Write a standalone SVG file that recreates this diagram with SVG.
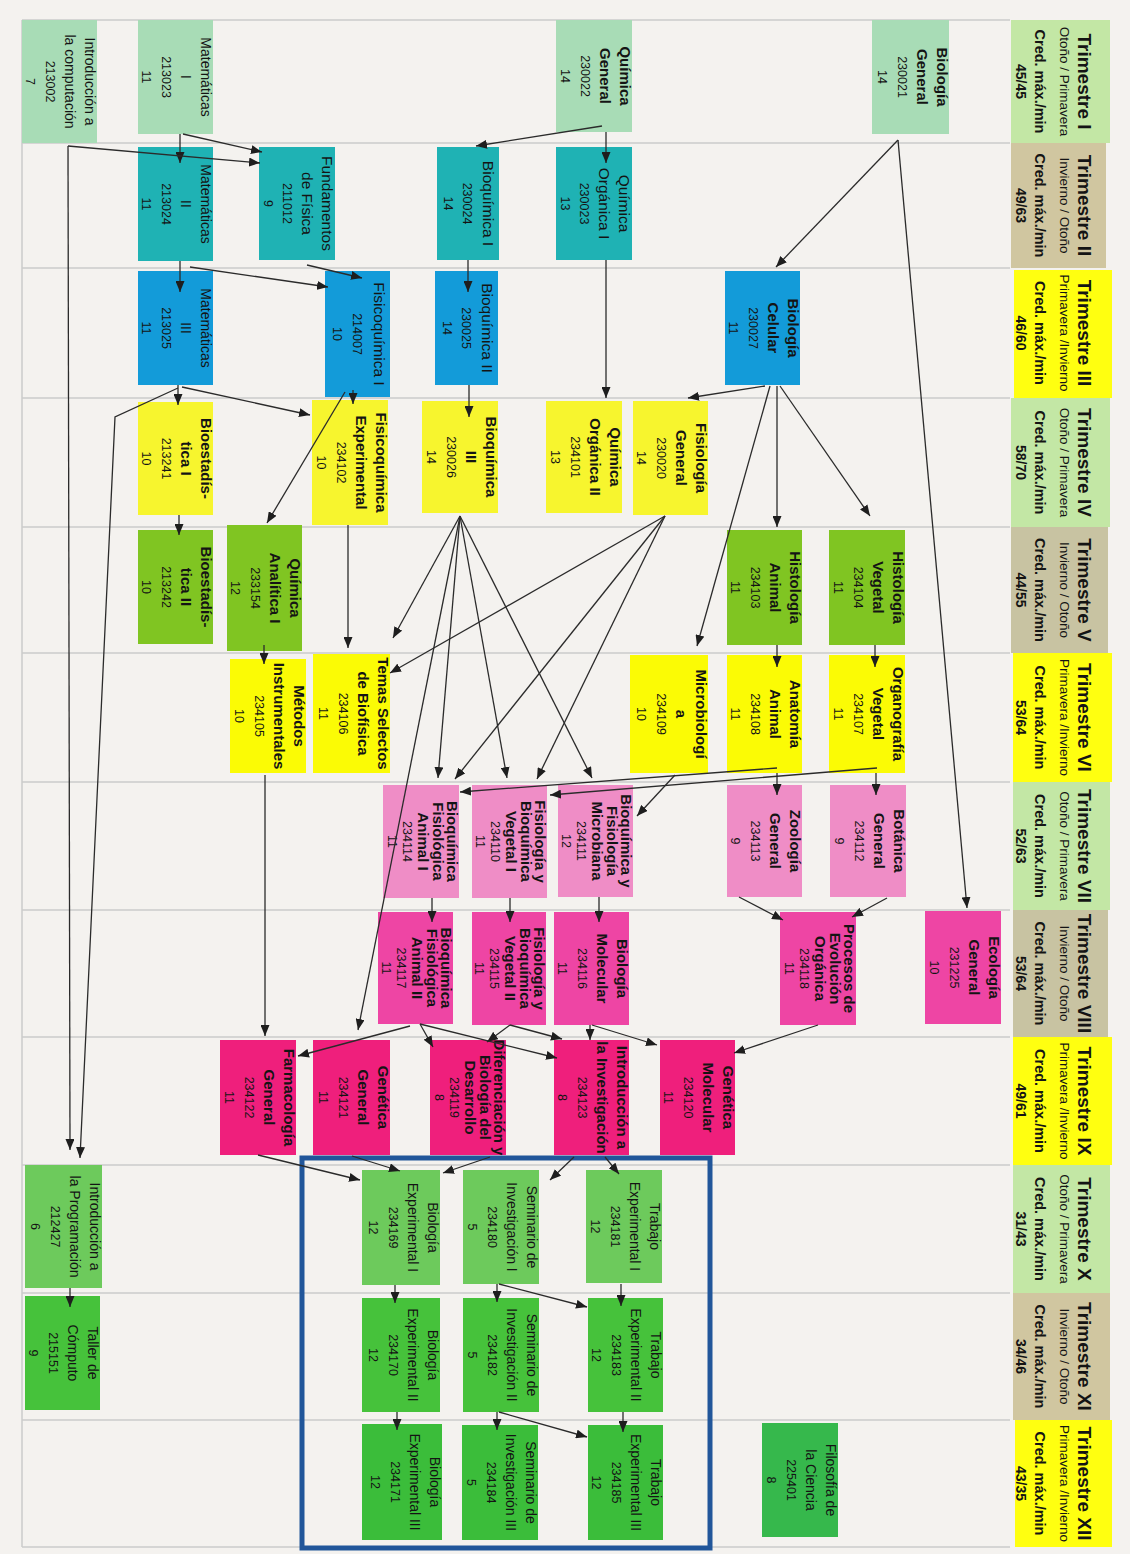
<svg xmlns="http://www.w3.org/2000/svg" width="1130" height="1554" viewBox="0 0 1130 1554">
<defs>
<style>
text{font-family:"Liberation Sans",Arial,sans-serif;fill:#141414;text-anchor:middle}
.tb{font-weight:bold;font-size:15px}
.tr{font-size:14px}
.trl{font-size:15.5px}
.tc{font-size:12.5px}
.hT{font-weight:bold;font-size:19px}
.hS{font-size:13.5px}
.hC{font-weight:bold;font-size:14.5px}
.hN{font-weight:bold;font-size:14px}
.grid line{stroke:#cbcbcb;stroke-width:1.5}
.cn path{fill:none;stroke:#2b2b2b;stroke-width:1.3;marker-end:url(#ah)}
.r1{fill:#a8dcb6}.r2{fill:#1fb2b4}.r3{fill:#139bd9}.r4{fill:#f7f52e}.r5{fill:#80c522}.r6{fill:#fbfb05}
.r7{fill:#ef8dc6}.r8{fill:#ee45a4}.r9{fill:#ef1f7c}.r10{fill:#6dca5c}.r11{fill:#46c23b}.r12{fill:#3bbd3a}.rf{fill:#36b84c}
.hg{fill:#c3e7a5}.ht{fill:#d0c6a0}.hy{fill:#ffff10}
</style>
<marker id="ah" viewBox="0 0 11 9" refX="11" refY="4.5" markerWidth="11" markerHeight="9" markerUnits="userSpaceOnUse" orient="auto"><path d="M0,0 L11,4.5 L0,9 z" fill="#1e1e1e"/></marker>
</defs>
<rect width="1130" height="1554" fill="#f4f2ef"/>
<g class="grid">
<line x1="22" y1="20" x2="1010" y2="20"/><line x1="22" y1="143" x2="1010" y2="143"/><line x1="22" y1="268" x2="1010" y2="268"/>
<line x1="22" y1="398" x2="1010" y2="398"/><line x1="22" y1="527" x2="1010" y2="527"/><line x1="22" y1="653" x2="1010" y2="653"/>
<line x1="22" y1="782" x2="1010" y2="782"/><line x1="22" y1="910" x2="1010" y2="910"/><line x1="22" y1="1037" x2="1010" y2="1037"/>
<line x1="22" y1="1165" x2="1010" y2="1165"/><line x1="22" y1="1293" x2="1010" y2="1293"/><line x1="22" y1="1420" x2="1010" y2="1420"/>
<line x1="22" y1="1547" x2="1010" y2="1547"/><line x1="22" y1="20" x2="22" y2="1547"/>
</g>
<g id="headers">
<g id="h1"><rect class="hg" x="1011" y="20" width="99" height="123"/><text transform="translate(1110,81.5) rotate(90)"><tspan class="hT" x="0" y="32">Trimestre I</tspan><tspan class="hS" x="0" y="50">Otoño / Primavera</tspan><tspan class="hC" x="0" y="75">Cred. máx./min</tspan><tspan class="hN" x="0" y="94">45/45</tspan></text></g>
<g id="h2"><rect class="ht" x="1011" y="143" width="95" height="125"/><text transform="translate(1110,205.5) rotate(90)"><tspan class="hT" x="0" y="32">Trimestre II</tspan><tspan class="hS" x="0" y="50">Invierno / Otoño</tspan><tspan class="hC" x="0" y="75">Cred. máx./min</tspan><tspan class="hN" x="0" y="94">49/63</tspan></text></g>
<g id="h3"><rect class="hy" x="1014" y="270" width="98" height="128"/><text transform="translate(1110,333) rotate(90)"><tspan class="hT" x="0" y="32">Trimestre III</tspan><tspan class="hS" x="0" y="50">Primavera /Invierno</tspan><tspan class="hC" x="0" y="75">Cred. máx./min</tspan><tspan class="hN" x="0" y="94">46/60</tspan></text></g>
<g id="h4"><rect class="hg" x="1011" y="398" width="99" height="129"/><text transform="translate(1110,462.5) rotate(90)"><tspan class="hT" x="0" y="32">Trimestre IV</tspan><tspan class="hS" x="0" y="50">Otoño / Primavera</tspan><tspan class="hC" x="0" y="75">Cred. máx./min</tspan><tspan class="hN" x="0" y="94">58/70</tspan></text></g>
<g id="h5"><rect class="ht" x="1011" y="527" width="97" height="126" style="fill:#c8c3a2"/><text transform="translate(1110,590) rotate(90)"><tspan class="hT" x="0" y="32">Trimestre V</tspan><tspan class="hS" x="0" y="50">Invierno / Otoño</tspan><tspan class="hC" x="0" y="75">Cred. máx./min</tspan><tspan class="hN" x="0" y="94">44/55</tspan></text></g>
<g id="h6"><rect class="hy" x="1013" y="653" width="99" height="129"/><text transform="translate(1110,717.5) rotate(90)"><tspan class="hT" x="0" y="32">Trimestre VI</tspan><tspan class="hS" x="0" y="50">Primavera /Invierno</tspan><tspan class="hC" x="0" y="75">Cred. máx./min</tspan><tspan class="hN" x="0" y="94">53/64</tspan></text></g>
<g id="h7"><rect class="hg" x="1013" y="782" width="97" height="128"/><text transform="translate(1110,846) rotate(90)"><tspan class="hT" x="0" y="32">Trimestre VII</tspan><tspan class="hS" x="0" y="50">Otoño / Primavera</tspan><tspan class="hC" x="0" y="75">Cred. máx./min</tspan><tspan class="hN" x="0" y="94">52/63</tspan></text></g>
<g id="h8"><rect class="ht" x="1013" y="910" width="95" height="127" style="fill:#c8c3a2"/><text transform="translate(1110,973.5) rotate(90)"><tspan class="hT" x="0" y="32">Trimestre VIII</tspan><tspan class="hS" x="0" y="50">Invierno / Otoño</tspan><tspan class="hC" x="0" y="75">Cred. máx./min</tspan><tspan class="hN" x="0" y="94">53/64</tspan></text></g>
<g id="h9"><rect class="hy" x="1013" y="1037" width="99" height="128"/><text transform="translate(1110,1101) rotate(90)"><tspan class="hT" x="0" y="32">Trimestre IX</tspan><tspan class="hS" x="0" y="50">Primavera /Invierno</tspan><tspan class="hC" x="0" y="75">Cred. máx./min</tspan><tspan class="hN" x="0" y="94">49/61</tspan></text></g>
<g id="h10"><rect class="hg" x="1013" y="1165" width="97" height="128"/><text transform="translate(1110,1229) rotate(90)"><tspan class="hT" x="0" y="32">Trimestre X</tspan><tspan class="hS" x="0" y="50">Otoño / Primavera</tspan><tspan class="hC" x="0" y="75">Cred. máx./min</tspan><tspan class="hN" x="0" y="94">31/43</tspan></text></g>
<g id="h11"><rect class="ht" x="1013" y="1293" width="97" height="127"/><text transform="translate(1110,1356.5) rotate(90)"><tspan class="hT" x="0" y="32">Trimestre XI</tspan><tspan class="hS" x="0" y="50">Invierno / Otoño</tspan><tspan class="hC" x="0" y="75">Cred. máx./min</tspan><tspan class="hN" x="0" y="94">34/46</tspan></text></g>
<g id="h12"><rect class="hy" x="1015" y="1420" width="97" height="127"/><text transform="translate(1110,1483.5) rotate(90)"><tspan class="hT" x="0" y="32">Trimestre XII</tspan><tspan class="hS" x="0" y="50">Primavera /Invierno</tspan><tspan class="hC" x="0" y="75">Cred. máx./min</tspan><tspan class="hN" x="0" y="94">43/35</tspan></text></g>
</g>
<rect id="frame" x="302" y="1158" width="408" height="390" fill="none" stroke="#21569a" stroke-width="5"/>
<g id="nodes">
<g id="n-intcomp"><rect class="r1" x="22" y="20" width="75" height="123"/><text transform="translate(97,81.5) rotate(90)"><tspan class="tr" x="0" y="12">Introducción a</tspan><tspan class="tr" x="0" y="32">la computación</tspan><tspan class="tc" x="0" y="51">213002</tspan><tspan class="tc" x="0" y="71">7</tspan></text></g>
<g id="n-mat1"><rect class="r1" x="138" y="20" width="75" height="114"/><text transform="translate(213,77) rotate(90)"><tspan class="tr" x="0" y="12">Matemáticas</tspan><tspan class="tr" x="0" y="32">I</tspan><tspan class="tc" x="0" y="51">213023</tspan><tspan class="tc" x="0" y="71">11</tspan></text></g>
<g id="n-qgen"><rect class="r1" x="556" y="20" width="76" height="112"/><text transform="translate(632,76) rotate(90)"><tspan class="tb" x="0" y="12">Química</tspan><tspan class="tb" x="0" y="32">General</tspan><tspan class="tc" x="0" y="51">230022</tspan><tspan class="tc" x="0" y="71">14</tspan></text></g>
<g id="n-bgen"><rect class="r1" x="872" y="20" width="77" height="114"/><text transform="translate(949,77) rotate(90)"><tspan class="tb" x="0" y="12">Biología</tspan><tspan class="tb" x="0" y="32">General</tspan><tspan class="tc" x="0" y="51">230021</tspan><tspan class="tc" x="0" y="71">14</tspan></text></g>

<g id="n-mat2"><rect class="r2" x="138" y="147" width="75" height="114"/><text transform="translate(213,204) rotate(90)"><tspan class="tr" x="0" y="12">Matemáticas</tspan><tspan class="tr" x="0" y="32">II</tspan><tspan class="tc" x="0" y="51">213024</tspan><tspan class="tc" x="0" y="71">11</tspan></text></g>
<g id="n-fis"><rect class="r2" x="259" y="147" width="76" height="113"/><text transform="translate(335,203.5) rotate(90)"><tspan class="trl" x="0" y="13">Fundamentos</tspan><tspan class="trl" x="0" y="33">de Física</tspan><tspan class="tc" x="0" y="52">211012</tspan><tspan class="tc" x="0" y="71">9</tspan></text></g>
<g id="n-bq1"><rect class="r2" x="437" y="147" width="62" height="113"/><text transform="translate(499,203.5) rotate(90)"><tspan class="trl" x="0" y="16">Bioquímica I</tspan><tspan class="tc" x="0" y="36">230024</tspan><tspan class="tc" x="0" y="55">14</tspan></text></g>
<g id="n-qorg1"><rect class="r2" x="556" y="147" width="76" height="113"/><text transform="translate(632,203.5) rotate(90)"><tspan class="trl" x="0" y="13">Química</tspan><tspan class="trl" x="0" y="33">Orgánica I</tspan><tspan class="tc" x="0" y="52">230023</tspan><tspan class="tc" x="0" y="71">13</tspan></text></g>

<g id="n-mat3"><rect class="r3" x="138" y="271" width="75" height="114"/><text transform="translate(213,328) rotate(90)"><tspan class="tr" x="0" y="12">Matemáticas</tspan><tspan class="tr" x="0" y="32">III</tspan><tspan class="tc" x="0" y="51">213025</tspan><tspan class="tc" x="0" y="71">11</tspan></text></g>
<g id="n-fq1"><rect class="r3" x="325" y="271" width="65" height="126"/><text transform="translate(390,334) rotate(90)"><tspan class="trl" x="0" y="16.5">Fisicoquímica I</tspan><tspan class="tc" x="0" y="37">214007</tspan><tspan class="tc" x="0" y="57">10</tspan></text></g>
<g id="n-bq2"><rect class="r3" x="435" y="271" width="63" height="114"/><text transform="translate(498,328) rotate(90)"><tspan class="trl" x="0" y="16">Bioquímica II</tspan><tspan class="tc" x="0" y="36">230025</tspan><tspan class="tc" x="0" y="55">14</tspan></text></g>
<g id="n-bcel"><rect class="r3" x="725" y="271" width="75" height="114"/><text transform="translate(800,328) rotate(90)"><tspan class="tb" x="0" y="12">Biología</tspan><tspan class="tb" x="0" y="32">Celular</tspan><tspan class="tc" x="0" y="51">230027</tspan><tspan class="tc" x="0" y="71">11</tspan></text></g>

<g id="n-best1"><rect class="r4" x="138" y="402" width="75" height="113"/><text transform="translate(213,458.5) rotate(90)"><tspan class="tb" x="0" y="12">Bioestadís-</tspan><tspan class="tb" x="0" y="32">tica I</tspan><tspan class="tc" x="0" y="51">213241</tspan><tspan class="tc" x="0" y="71">10</tspan></text></g>
<g id="n-fqexp"><rect class="r4" x="312" y="400" width="76" height="125"/><text transform="translate(388,462.5) rotate(90)"><tspan class="tb" x="0" y="12">Fisicoquímica</tspan><tspan class="tb" x="0" y="32">Experimental</tspan><tspan class="tc" x="0" y="51">234102</tspan><tspan class="tc" x="0" y="71">10</tspan></text></g>
<g id="n-bq3"><rect class="r4" x="422" y="401" width="76" height="112"/><text transform="translate(498,457) rotate(90)"><tspan class="tb" x="0" y="12">Bioquímica</tspan><tspan class="tb" x="0" y="32">III</tspan><tspan class="tc" x="0" y="51">230026</tspan><tspan class="tc" x="0" y="71">14</tspan></text></g>
<g id="n-qorg2"><rect class="r4" x="546" y="401" width="76" height="112"/><text transform="translate(622,457) rotate(90)"><tspan class="tb" x="0" y="12">Química</tspan><tspan class="tb" x="0" y="32">Orgánica II</tspan><tspan class="tc" x="0" y="51">234101</tspan><tspan class="tc" x="0" y="71">13</tspan></text></g>
<g id="n-fisgen"><rect class="r4" x="633" y="401" width="75" height="114"/><text transform="translate(708,458) rotate(90)"><tspan class="tb" x="0" y="12">Fisiología</tspan><tspan class="tb" x="0" y="32">General</tspan><tspan class="tc" x="0" y="51">230020</tspan><tspan class="tc" x="0" y="71">14</tspan></text></g>

<g id="n-best2"><rect class="r5" x="138" y="530" width="75" height="114"/><text transform="translate(213,587) rotate(90)"><tspan class="tb" x="0" y="12">Bioestadís-</tspan><tspan class="tb" x="0" y="32">tica II</tspan><tspan class="tc" x="0" y="51">213242</tspan><tspan class="tc" x="0" y="71">10</tspan></text></g>
<g id="n-qanal"><rect class="r5" x="227" y="525" width="75" height="126"/><text transform="translate(302,588) rotate(90)"><tspan class="tb" x="0" y="12">Química</tspan><tspan class="tb" x="0" y="32">Analítica I</tspan><tspan class="tc" x="0" y="51">233154</tspan><tspan class="tc" x="0" y="71">12</tspan></text></g>
<g id="n-hani"><rect class="r5" x="727" y="530" width="75" height="115"/><text transform="translate(802,587.5) rotate(90)"><tspan class="tb" x="0" y="12">Histología</tspan><tspan class="tb" x="0" y="32">Animal</tspan><tspan class="tc" x="0" y="51">234103</tspan><tspan class="tc" x="0" y="71">11</tspan></text></g>
<g id="n-hveg"><rect class="r5" x="829" y="530" width="76" height="115"/><text transform="translate(905,587.5) rotate(90)"><tspan class="tb" x="0" y="12">Histología</tspan><tspan class="tb" x="0" y="32">Vegetal</tspan><tspan class="tc" x="0" y="51">234104</tspan><tspan class="tc" x="0" y="71">11</tspan></text></g>

<g id="n-metins"><rect class="r6" x="230" y="659" width="76" height="114"/><text transform="translate(306,716) rotate(90)"><tspan class="tb" x="0" y="12">Métodos</tspan><tspan class="tb" x="0" y="32">Instrumentales</tspan><tspan class="tc" x="0" y="51">234105</tspan><tspan class="tc" x="0" y="71">10</tspan></text></g>
<g id="n-temas"><rect class="r6" x="313" y="654" width="77" height="119"/><text transform="translate(390,713.5) rotate(90)"><tspan class="tb" x="0" y="12">Temas Selectos</tspan><tspan class="tb" x="0" y="32">de Biofísica</tspan><tspan class="tc" x="0" y="51">234106</tspan><tspan class="tc" x="0" y="71">11</tspan></text></g>
<g id="n-micro"><rect class="r6" x="630" y="655" width="78" height="118"/><text transform="translate(708,714) rotate(90)"><tspan class="tb" x="0" y="12">Microbiologí</tspan><tspan class="tb" x="0" y="32">a</tspan><tspan class="tc" x="0" y="51">234109</tspan><tspan class="tc" x="0" y="71">10</tspan></text></g>
<g id="n-anat"><rect class="r6" x="727" y="655" width="75" height="118"/><text transform="translate(802,714) rotate(90)"><tspan class="tb" x="0" y="12">Anatomía</tspan><tspan class="tb" x="0" y="32">Animal</tspan><tspan class="tc" x="0" y="51">234108</tspan><tspan class="tc" x="0" y="71">11</tspan></text></g>
<g id="n-organ"><rect class="r6" x="829" y="655" width="76" height="118"/><text transform="translate(905,714) rotate(90)"><tspan class="tb" x="0" y="12">Organografía</tspan><tspan class="tb" x="0" y="32">Vegetal</tspan><tspan class="tc" x="0" y="51">234107</tspan><tspan class="tc" x="0" y="71">11</tspan></text></g>

<g id="n-bfa1"><rect class="r7" x="383" y="785" width="76" height="113"/><text transform="translate(459,841.5) rotate(90)"><tspan class="tb" x="0" y="12">Bioquímica</tspan><tspan class="tb" x="0" y="26.5">Fisiológica</tspan><tspan class="tb" x="0" y="41">Animal I</tspan><tspan class="tc" x="0" y="56">234114</tspan><tspan class="tc" x="0" y="71">11</tspan></text></g>
<g id="n-fbv1"><rect class="r7" x="472" y="785" width="75" height="113"/><text transform="translate(547,841.5) rotate(90)"><tspan class="tb" x="0" y="12">Fisiología y</tspan><tspan class="tb" x="0" y="26.5">Bioquímica</tspan><tspan class="tb" x="0" y="41">Vegetal I</tspan><tspan class="tc" x="0" y="56">234110</tspan><tspan class="tc" x="0" y="71">11</tspan></text></g>
<g id="n-bfm"><rect class="r7" x="558" y="785" width="75" height="112"/><text transform="translate(633,841) rotate(90)"><tspan class="tb" x="0" y="12">Bioquímica y</tspan><tspan class="tb" x="0" y="26.5">Fisiología</tspan><tspan class="tb" x="0" y="41">Microbiana</tspan><tspan class="tc" x="0" y="56">234111</tspan><tspan class="tc" x="0" y="71">12</tspan></text></g>
<g id="n-zoo"><rect class="r7" x="727" y="785" width="75" height="112"/><text transform="translate(802,841) rotate(90)"><tspan class="tb" x="0" y="12">Zoología</tspan><tspan class="tb" x="0" y="32">General</tspan><tspan class="tc" x="0" y="51">234113</tspan><tspan class="tc" x="0" y="71">9</tspan></text></g>
<g id="n-bot"><rect class="r7" x="830" y="785" width="76" height="112"/><text transform="translate(906,841) rotate(90)"><tspan class="tb" x="0" y="12">Botánica</tspan><tspan class="tb" x="0" y="32">General</tspan><tspan class="tc" x="0" y="51">234112</tspan><tspan class="tc" x="0" y="71">9</tspan></text></g>

<g id="n-bfa2"><rect class="r8" x="378" y="912" width="75" height="112"/><text transform="translate(453,968) rotate(90)"><tspan class="tb" x="0" y="12">Bioquímica</tspan><tspan class="tb" x="0" y="26.5">Fisiológica</tspan><tspan class="tb" x="0" y="41">Animal II</tspan><tspan class="tc" x="0" y="56">234117</tspan><tspan class="tc" x="0" y="71">11</tspan></text></g>
<g id="n-fbv2"><rect class="r8" x="472" y="912" width="74" height="113"/><text transform="translate(546,968.5) rotate(90)"><tspan class="tb" x="0" y="12">Fisiología y</tspan><tspan class="tb" x="0" y="26.5">Bioquímica</tspan><tspan class="tb" x="0" y="41">Vegetal II</tspan><tspan class="tc" x="0" y="56">234115</tspan><tspan class="tc" x="0" y="71">11</tspan></text></g>
<g id="n-bmol"><rect class="r8" x="554" y="912" width="75" height="113"/><text transform="translate(629,968.5) rotate(90)"><tspan class="tb" x="0" y="12">Biología</tspan><tspan class="tb" x="0" y="32">Molecular</tspan><tspan class="tc" x="0" y="51">234116</tspan><tspan class="tc" x="0" y="71">11</tspan></text></g>
<g id="n-proc"><rect class="r8" x="780" y="912" width="76" height="113"/><text transform="translate(856,968.5) rotate(90)"><tspan class="tb" x="0" y="12">Procesos de</tspan><tspan class="tb" x="0" y="26.5">Evolución</tspan><tspan class="tb" x="0" y="41">Orgánica</tspan><tspan class="tc" x="0" y="56">234118</tspan><tspan class="tc" x="0" y="71">11</tspan></text></g>
<g id="n-eco"><rect class="r8" x="925" y="911" width="76" height="113"/><text transform="translate(1001,967.5) rotate(90)"><tspan class="tb" x="0" y="12">Ecología</tspan><tspan class="tb" x="0" y="32">General</tspan><tspan class="tc" x="0" y="51">231225</tspan><tspan class="tc" x="0" y="71">10</tspan></text></g>

<g id="n-farm"><rect class="r9" x="220" y="1040" width="76" height="115"/><text transform="translate(296,1097.5) rotate(90)"><tspan class="tb" x="0" y="12">Farmacología</tspan><tspan class="tb" x="0" y="32">General</tspan><tspan class="tc" x="0" y="51">234122</tspan><tspan class="tc" x="0" y="71">11</tspan></text></g>
<g id="n-gengen"><rect class="r9" x="313" y="1040" width="77" height="115"/><text transform="translate(390,1097.5) rotate(90)"><tspan class="tb" x="0" y="12">Genética</tspan><tspan class="tb" x="0" y="32">General</tspan><tspan class="tc" x="0" y="51">234121</tspan><tspan class="tc" x="0" y="71">11</tspan></text></g>
<g id="n-dif"><rect class="r9" x="430" y="1040" width="76" height="115"/><text transform="translate(506,1097.5) rotate(90)"><tspan class="tb" x="0" y="12">Diferenciación y</tspan><tspan class="tb" x="0" y="26.5">Biología del</tspan><tspan class="tb" x="0" y="41">Desarrollo</tspan><tspan class="tc" x="0" y="56">234119</tspan><tspan class="tc" x="0" y="71">8</tspan></text></g>
<g id="n-intinv"><rect class="r9" x="554" y="1040" width="75" height="115"/><text transform="translate(629,1097.5) rotate(90)"><tspan class="tb" x="0" y="12">Introducción a</tspan><tspan class="tb" x="0" y="32">la Investigación</tspan><tspan class="tc" x="0" y="51">234123</tspan><tspan class="tc" x="0" y="71">8</tspan></text></g>
<g id="n-genmol"><rect class="r9" x="660" y="1040" width="75" height="115"/><text transform="translate(735,1097.5) rotate(90)"><tspan class="tb" x="0" y="12">Genética</tspan><tspan class="tb" x="0" y="32">Molecular</tspan><tspan class="tc" x="0" y="51">234120</tspan><tspan class="tc" x="0" y="71">11</tspan></text></g>

<g id="n-intprog"><rect class="r10" x="25" y="1165" width="77" height="123"/><text transform="translate(102,1226.5) rotate(90)"><tspan class="tr" x="0" y="12">Introducción a</tspan><tspan class="tr" x="0" y="32">la Programación</tspan><tspan class="tc" x="0" y="51">212427</tspan><tspan class="tc" x="0" y="71">6</tspan></text></g>
<g id="n-bexp1"><rect class="r10" x="362" y="1170" width="78" height="115"/><text transform="translate(440,1227.5) rotate(90)"><tspan class="tr" x="0" y="12">Biología</tspan><tspan class="tr" x="0" y="32">Experimental I</tspan><tspan class="tc" x="0" y="51">234169</tspan><tspan class="tc" x="0" y="71">12</tspan></text></g>
<g id="n-sem1"><rect class="r10" x="463" y="1170" width="76" height="114"/><text transform="translate(539,1227) rotate(90)"><tspan class="tr" x="0" y="12">Seminario de</tspan><tspan class="tr" x="0" y="32">Investigación I</tspan><tspan class="tc" x="0" y="51">234180</tspan><tspan class="tc" x="0" y="71">5</tspan></text></g>
<g id="n-trab1"><rect class="r10" x="586" y="1170" width="76" height="113"/><text transform="translate(662,1226.5) rotate(90)"><tspan class="tr" x="0" y="12">Trabajo</tspan><tspan class="tr" x="0" y="32">Experimental I</tspan><tspan class="tc" x="0" y="51">234181</tspan><tspan class="tc" x="0" y="71">12</tspan></text></g>

<g id="n-taller"><rect class="r11" x="25" y="1296" width="75" height="114"/><text transform="translate(100,1353) rotate(90)"><tspan class="tr" x="0" y="12">Taller de</tspan><tspan class="tr" x="0" y="32">Cómputo</tspan><tspan class="tc" x="0" y="51">215151</tspan><tspan class="tc" x="0" y="71">9</tspan></text></g>
<g id="n-bexp2"><rect class="r11" x="362" y="1298" width="78" height="114"/><text transform="translate(440,1355) rotate(90)"><tspan class="tr" x="0" y="12">Biología</tspan><tspan class="tr" x="0" y="32">Experimental II</tspan><tspan class="tc" x="0" y="51">234170</tspan><tspan class="tc" x="0" y="71">12</tspan></text></g>
<g id="n-sem2"><rect class="r11" x="463" y="1298" width="76" height="114"/><text transform="translate(539,1355) rotate(90)"><tspan class="tr" x="0" y="12">Seminario de</tspan><tspan class="tr" x="0" y="32">Investigación II</tspan><tspan class="tc" x="0" y="51">234182</tspan><tspan class="tc" x="0" y="71">5</tspan></text></g>
<g id="n-trab2"><rect class="r11" x="588" y="1298" width="75" height="114"/><text transform="translate(663,1355) rotate(90)"><tspan class="tr" x="0" y="12">Trabajo</tspan><tspan class="tr" x="0" y="32">Experimental II</tspan><tspan class="tc" x="0" y="51">234183</tspan><tspan class="tc" x="0" y="71">12</tspan></text></g>

<g id="n-bexp3"><rect class="r12" x="362" y="1424" width="80" height="116"/><text transform="translate(442,1482) rotate(90)"><tspan class="tr" x="0" y="12">Biología</tspan><tspan class="tr" x="0" y="32">Experimental III</tspan><tspan class="tc" x="0" y="51">234171</tspan><tspan class="tc" x="0" y="71">12</tspan></text></g>
<g id="n-sem3"><rect class="r12" x="462" y="1425" width="76" height="115"/><text transform="translate(538,1482.5) rotate(90)"><tspan class="tr" x="0" y="12">Seminario de</tspan><tspan class="tr" x="0" y="32">Investigación III</tspan><tspan class="tc" x="0" y="51">234184</tspan><tspan class="tc" x="0" y="71">5</tspan></text></g>
<g id="n-trab3"><rect class="r12" x="588" y="1425" width="75" height="115"/><text transform="translate(663,1482.5) rotate(90)"><tspan class="tr" x="0" y="12">Trabajo</tspan><tspan class="tr" x="0" y="32">Experimental III</tspan><tspan class="tc" x="0" y="51">234185</tspan><tspan class="tc" x="0" y="71">12</tspan></text></g>
<g id="n-filo"><rect class="rf" x="762" y="1423" width="76" height="114"/><text transform="translate(838,1480) rotate(90)"><tspan class="tr" x="0" y="12">Filosofía de</tspan><tspan class="tr" x="0" y="32">la Ciencia</tspan><tspan class="tc" x="0" y="51">225401</tspan><tspan class="tc" x="0" y="71">8</tspan></text></g>
</g>
<g id="connectors" class="cn">
<path d="M180,134 L180,163"/>
<path d="M183,134 L262,152"/>
<path d="M68,146 L260,163"/>
<path d="M68,146 L70,1150"/>
<path d="M178,388 L115,417 L80,1158"/>
<path d="M180,261 L180,292"/>
<path d="M190,267 L328,287"/>
<path d="M307,265 L362,278"/>
<path d="M606,132 L606,163"/>
<path d="M602,126 L476,146"/>
<path d="M898,140 L776,267"/>
<path d="M898,140 L967,908"/>
<path d="M468,260 L468,292"/>
<path d="M606,260 L606,398"/>
<path d="M469,385 L469,417"/>
<path d="M765,386 L688,398"/>
<path d="M777,386 L777,527"/>
<path d="M780,386 L870,516"/>
<path d="M770,386 L697,646"/>
<path d="M353,390 L353,404"/>
<path d="M345,392 L267,523"/>
<path d="M178,385 L178,405"/>
<path d="M182,387 L310,415"/>
<path d="M179,515 L179,535"/>
<path d="M348,525 L348,648"/>
<path d="M264,645 L264,664"/>
<path d="M265,775 L265,1036"/>
<path d="M777,645 L777,667"/>
<path d="M875,645 L875,667"/>
<path d="M777,773 L777,795"/>
<path d="M876,773 L876,795"/>
<path d="M777,768 L460,792"/>
<path d="M877,768 L550,795"/>
<path d="M675,775 L637,816"/>
<path d="M460,516 L393,638"/>
<path d="M460,516 L438,778"/>
<path d="M460,516 L507,778"/>
<path d="M460,516 L592,778"/>
<path d="M460,516 L358,1030"/>
<path d="M665,516 L390,673"/>
<path d="M665,516 L455,779"/>
<path d="M665,516 L537,779"/>
<path d="M432,898 L432,922"/>
<path d="M510,898 L510,922"/>
<path d="M599,897 L599,922"/>
<path d="M739,897 L783,920"/>
<path d="M887,898 L852,917"/>
<path d="M818,1025 L734,1053"/>
<path d="M410,1026 L298,1056"/>
<path d="M420,1024 L433,1047"/>
<path d="M420,1024 L557,1058"/>
<path d="M510,1025 L487,1042"/>
<path d="M510,1025 L562,1039"/>
<path d="M590,1025 L590,1040"/>
<path d="M592,1025 L657,1045"/>
<path d="M258,1155 L360,1180"/>
<path d="M352,1156 L400,1171"/>
<path d="M490,1157 L443,1173"/>
<path d="M574,1157 L550,1180"/>
<path d="M605,1157 L619,1174"/>
<path d="M70,1288 L70,1307"/>
<path d="M395,1285 L395,1303"/>
<path d="M497,1284 L497,1302"/>
<path d="M499,1284 L587,1307"/>
<path d="M621,1284 L621,1306"/>
<path d="M397,1412 L397,1430"/>
<path d="M497,1412 L497,1430"/>
<path d="M499,1412 L587,1437"/>
<path d="M623,1412 L623,1432"/>
</g>
</svg>
